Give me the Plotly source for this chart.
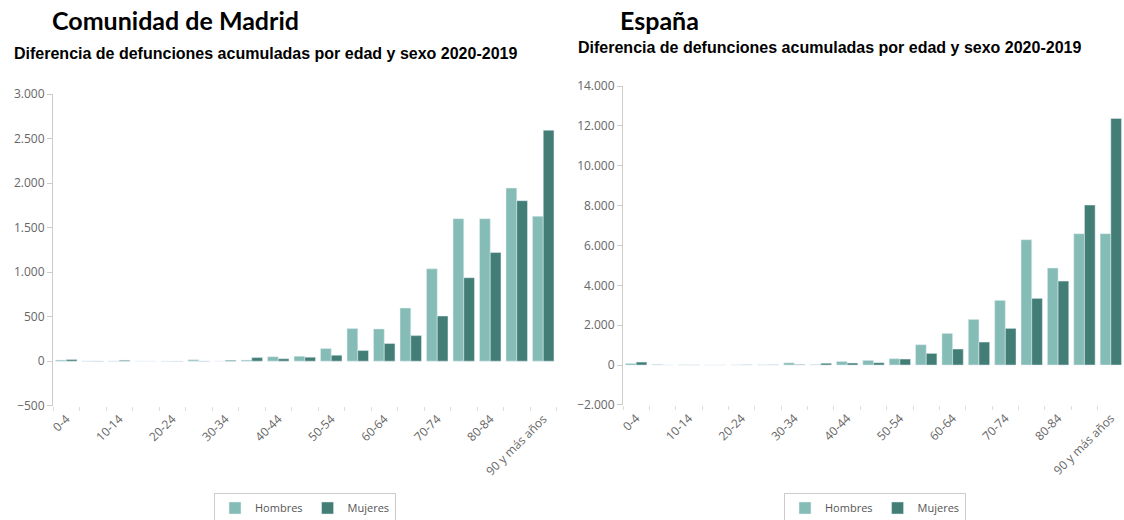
import plotly.graph_objects as go

categories = ["0-4", "5-9", "10-14", "15-19", "20-24", "25-29", "30-34", "35-39",
              "40-44", "45-49", "50-54", "55-59", "60-64", "65-69", "70-74",
              "75-79", "80-84", "85-89", "90 y más años"]
tick_labels = [c if i % 2 == 0 else "" for i, c in enumerate(categories)]

madrid_hombres = [12, 3, 2, 0, -5, 15, 0, 12, 50, 56, 142, 366, 362, 597, 1037, 1600, 1600, 1944, 1627]
madrid_mujeres = [18, 2, 10, -2, -3, 3, 10, 40, 27, 45, 67, 119, 198, 287, 507, 937, 1220, 1802, 2593]

espana_hombres = [80, 30, 10, 0, 5, 10, 110, 20, 180, 234, 318, 1020, 1589, 2291, 3244, 6288, 4866, 6589, 6589]
espana_mujeres = [150, 0, 5, 0, 10, 10, 30, 90, 100, 117, 301, 585, 803, 1154, 1839, 3344, 4214, 8027, 12375]

C_H = "rgb(133,189,182)"
C_M = "rgb(66,126,117)"
W, H = 1124, 520

def px(x):
    return x / W

def py(y):
    return 1 - y / H

fig = go.Figure()
fig.add_bar(x=categories, y=madrid_hombres, name="Hombres", marker_color=C_H,
            xaxis="x", yaxis="y", legend="legend")
fig.add_bar(x=categories, y=madrid_mujeres, name="Mujeres", marker_color=C_M,
            xaxis="x", yaxis="y", legend="legend")
fig.add_bar(x=categories, y=espana_hombres, name="Hombres", marker_color=C_H,
            xaxis="x2", yaxis="y2", legend="legend2")
fig.add_bar(x=categories, y=espana_mujeres, name="Mujeres", marker_color=C_M,
            xaxis="x2", yaxis="y2", legend="legend2")

tickfont = dict(family="Open Sans, sans-serif", size=12, color="#666666")

def xaxis(domain, anchor):
    return dict(domain=domain, anchor=anchor, type="category",
                tickmode="array", tickvals=categories, ticktext=tick_labels,
                tickson="boundaries", ticks="outside", ticklen=4, tickcolor="#dddddd",
                tickangle=-45, tickfont=tickfont, ticklabelstandoff=3,
                showline=False, showgrid=False,
                zeroline=False, automargin=False, range=[-0.5, 18.5])

def yaxis(domain, anchor, rng, dtick):
    return dict(domain=domain, anchor=anchor, range=rng, dtick=dtick,
                tickformat=",d",
                showline=True, linecolor="#cccccc", linewidth=1, ticks="outside",
                ticklen=5, tickcolor="#cccccc", tickfont=tickfont, showgrid=False,
                zeroline=False, automargin=False)

legend_style = dict(orientation="h", xanchor="center", yanchor="middle",
                    bordercolor="#cccccc", borderwidth=1, bgcolor="white",
                    font=dict(family="Open Sans, sans-serif", size=11, color="#555555"),
                    itemwidth=30, tracegroupgap=0)

fig.update_layout(
    width=W, height=H,
    margin=dict(l=0, r=0, t=0, b=0, autoexpand=False),
    paper_bgcolor="white", plot_bgcolor="white",
    separators=",.",
    barmode="group", bargap=0.19, bargroupgap=0,
    xaxis=xaxis([px(53), px(556.5)], "y"),
    yaxis=yaxis([py(405.7), py(94)], "x", [-500, 3000], 500),
    xaxis2=xaxis([px(623), 1.0], "y2"),
    yaxis2=yaxis([py(404.9), py(86)], "x2", [-2000, 14000], 2000),
    legend=dict(x=px(305), y=py(508), **legend_style),
    legend2=dict(x=px(875), y=py(508), **legend_style),
    annotations=[
        dict(text="<b>Comunidad de Madrid</b>", x=px(50), y=py(20), xref="paper", yref="paper",
             xanchor="left", yanchor="middle", showarrow=False,
             font=dict(family="Lato, sans-serif", size=25, color="black")),
        dict(text="<b>España</b>", x=px(618), y=py(20), xref="paper", yref="paper",
             xanchor="left", yanchor="middle", showarrow=False,
             font=dict(family="Lato, sans-serif", size=25, color="black")),
        dict(text="<b>Diferencia de defunciones acumuladas por edad y sexo 2020-2019</b>",
             x=px(12), y=py(54), xref="paper", yref="paper",
             xanchor="left", yanchor="middle", showarrow=False,
             font=dict(family="Liberation Sans, Arial, sans-serif", size=16, color="black")),
        dict(text="<b>Diferencia de defunciones acumuladas por edad y sexo 2020-2019</b>",
             x=px(576), y=py(47), xref="paper", yref="paper",
             xanchor="left", yanchor="middle", showarrow=False,
             font=dict(family="Liberation Sans, Arial, sans-serif", size=16, color="black")),
    ],
)

fig.write_html("out.html", config={"displayModeBar": False},
               post_script="document.body.style.margin='0';")
